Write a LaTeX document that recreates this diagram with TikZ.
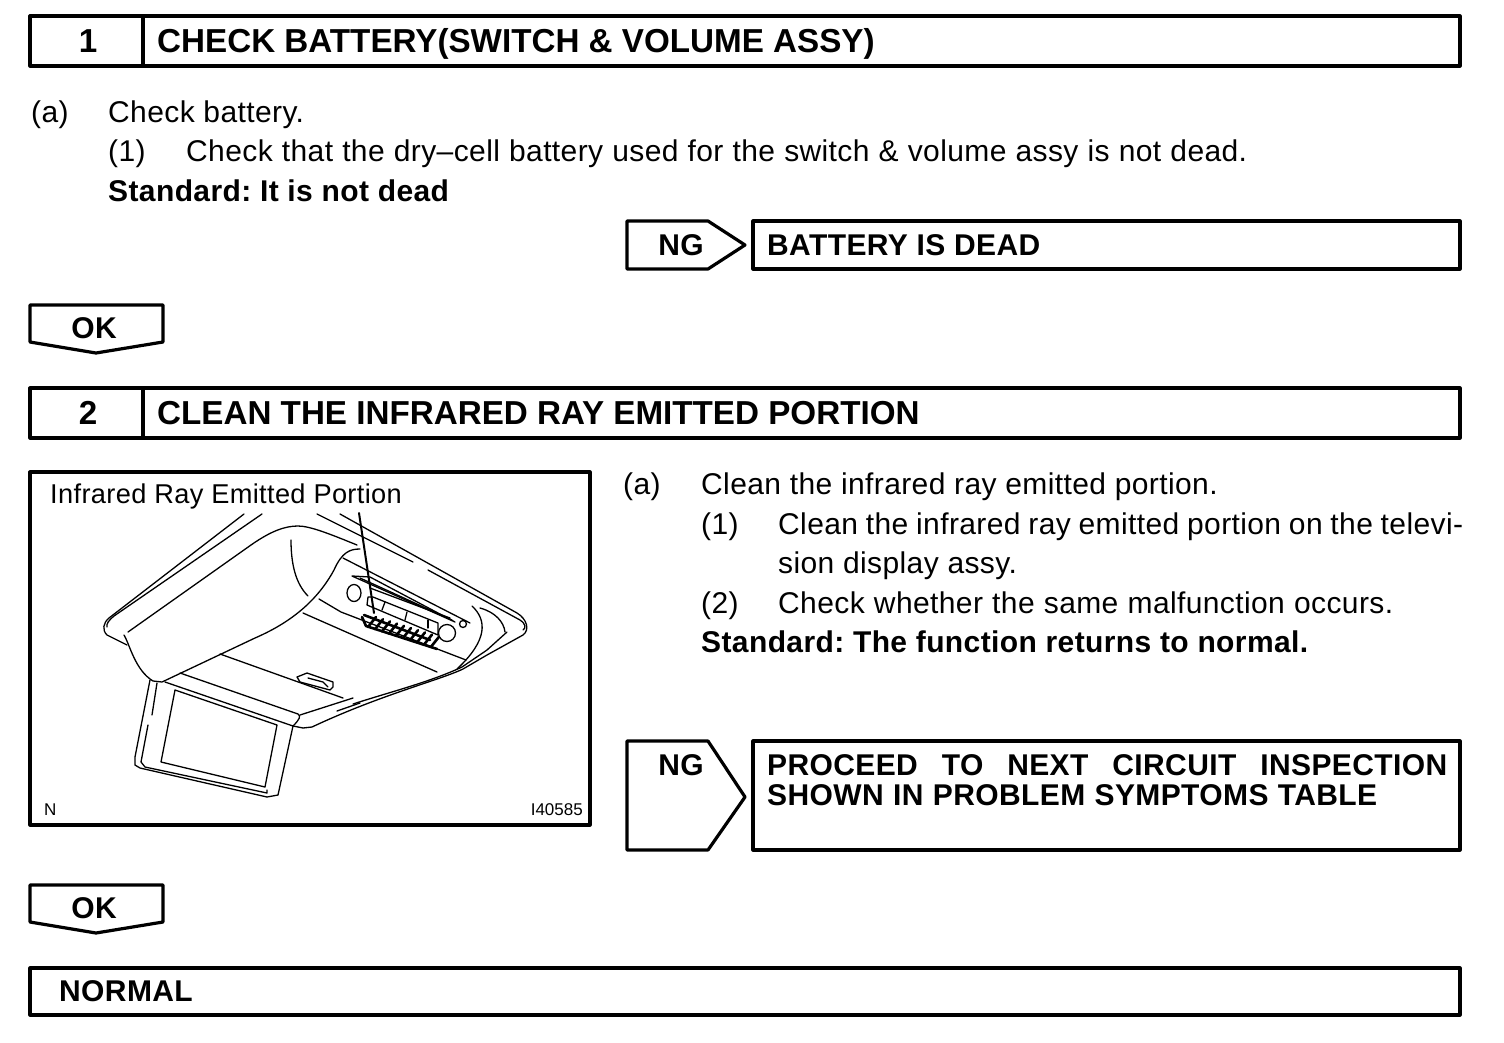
\documentclass[tikz,border=0pt]{standalone}
\usepackage{fontspec}
\setmainfont[LetterSpace=1.3]{Liberation Sans}
\usetikzlibrary{calc,positioning}
\tikzset{
  boxline/.style={line width=3.2pt,line join=round},
  sketch/.style={line width=1.3pt,line join=round,line cap=round},
  ventline/.style={sketch,line width=2.6pt},
  bodytxt/.style={anchor=base west,inner sep=0pt,font=\fontsize{30}{36}\selectfont\frenchspacing},
  boldtxt/.style={anchor=base west,inner sep=0pt,font=\fontsize{30}{36}\selectfont\bfseries\frenchspacing},
  headtxt/.style={anchor=base west,inner sep=0pt,font=\fontsize{33.2}{40}\selectfont\bfseries\addfontfeature{LetterSpace=0}},
  tagtxt/.style={anchor=base,inner sep=0pt,font=\fontsize{30}{36}\selectfont\bfseries},
  figtxt/.style={anchor=base west,inner sep=0pt,font=\fontsize{27.2}{32}\selectfont},
  tinytxt/.style={anchor=base west,inner sep=0pt,font=\fontsize{17}{22}\selectfont\addfontfeature{LetterSpace=0}}
}
\begin{document}
\begin{tikzpicture}[x=1pt,y=-1pt]
\useasboundingbox (0,0) rectangle (1504,1042);
\draw[boxline] (30,16) rectangle (1460,66);
\draw[boxline] (143,16)--(143,66);
\node[headtxt,anchor=base] (num1) at (88,52) {1};
\node[headtxt] (head1) at (157,52) {CHECK BATTERY(SWITCH \& VOLUME ASSY)};
\node[bodytxt] (a1) at (31,122) {(a)};
\node[bodytxt] (a1txt) at (108,122) {Check battery.};
\node[bodytxt] (b1) at (108,161) {(1)};
\node[bodytxt] (b1txt) at (186,161) {\makebox[1061pt][s]{Check that the dry–cell battery used for the switch \& volume assy is not dead.}};
\node[boldtxt] (std1) at (108,201) {Standard: It is not dead};
\draw[boxline] (627,221)--(708,221)--(745,245)--(708,269)--(627,269)--cycle;
\node[tagtxt] (ng1) at (681,255) {NG};
\draw[boxline] (753,221) rectangle (1460,269);
\node[boldtxt] (res1) at (767,255) {BATTERY IS DEAD};
\draw[boxline] (30,305)--(163,305)--(163,342)--(96,353)--(30,342)--cycle;
\node[tagtxt] (ok1) at (94,338) {OK};
\draw[boxline] (30,388) rectangle (1460,438);
\draw[boxline] (143,388)--(143,438);
\node[headtxt,anchor=base] (num2) at (88,424) {2};
\node[headtxt] (head2) at (157,424) {CLEAN THE INFRARED RAY EMITTED PORTION};
\draw[boxline] (30,472) rectangle (590,825);
\node[figtxt] (fig) at (50,503) {Infrared Ray Emitted Portion};
\node[tinytxt] (figN) at (44,815) {N};
\node[tinytxt,anchor=base east] (figid) at (583,815) {I40585};
\draw[sketch] (244,514)--(109,618) .. controls (103,623) and (102,630) .. (107,635)--(127,645);
\draw[sketch] (262,514)--(114,616) .. controls (109,620) and (106,624) .. (107,627);
\draw[sketch] (128,632)--(251,545) .. controls (271,531) and (285,526) .. (298,526) .. controls (310,526) and (330,534) .. (357,545);
\draw[sketch] (124,635) .. controls (130,645) and (135,670) .. (153,681)--(162,682)--(255,638) .. controls (285,625) and (315,605) .. (334,570) .. controls (342,552) and (350,549) .. (360,549);
\draw[sketch] (291,540) .. controls (291,565) and (296,584) .. (308,596);
\draw[sketch] (317,514)--(413,562);
\draw[sketch] (340,514)--(517,613) .. controls (527,619) and (530,630) .. (523,635)--(487,655)--(463,669) .. controls (440,680) and (380,695) .. (312,727)--(303,728)--(293,726);
\draw[sketch] (428,570)--(520,620) .. controls (526,624) and (526,628) .. (523,630);
\draw[sketch] (343,558)--(470,623);
\draw[sketch] (472,606) .. controls (487,620) and (488,640) .. (457,669);
\draw[sketch] (480,608) .. controls (495,612) and (504,622) .. (505,632);
\draw[sketch] (507,632)--(487,650)--(462,667) .. controls (430,682) and (390,692) .. (353,704);
\draw[sketch] (319,599)--(341,612)--(466,660);
\draw[sketch] (303,613)--(437,672);
\draw[sketch] (300,715)--(353,698);
\draw[sketch] (337,711)--(360,703);
\draw[sketch] (220,654)--(343,698);
\draw[sketch] (180,673)--(298,714) .. controls (301,716) and (300,719) .. (293,726);
\draw[sketch] (165,682)--(293,726);
\draw[sketch] (175,690)--(277,725)--(265,787)--(161,762)--cycle;
\draw[sketch] (150,680)--(135,757)--(135,765)--(140,768)--(267,797)--(278,795)--(293,726);
\draw[sketch] (157,683)--(152,715);
\draw[sketch] (148,725)--(141,762)--(145,767)--(267,793)--(267,790);
\draw[sketch] (297,677)--(307,673)--(333,682)--(333,687)--(330,690)--(300,682)--cycle;
\draw[sketch] (308,678)--(323,682)--(328,687);
\draw[sketch] (352,576)--(370,577)--(455,622)--cycle;
\draw[sketch] (360,578)--(452,620);
\draw[sketch] (370,588)--(450,618);
\draw[sketch] (354,593) ellipse (7 and 8.5);
\draw[sketch] (447,633) circle (8.5);
\draw[sketch] (463,624) circle (3.5);
\draw[sketch] (368,597)--(367,605)--(438,635)--(438,623)--(373,597)--cycle;
\draw[sketch] (385,602)--(382,610);
\draw[sketch] (407,612)--(405,620);
\draw[sketch] (428,620)--(428,628);
\draw[ventline] (362,617)--(366,626)--(437,649);
\draw[ventline] (364,615)--(430,640);
\foreach \t in {0,1,...,9}
  \draw[ventline] ({368+7*\t},{627+2.2*\t})--++(8,-10);
\draw[sketch,line width=2pt] (359,513)--(374,613);
\node[bodytxt] (a2) at (623,494) {(a)};
\node[bodytxt] (a2txt) at (701,494) {Clean the infrared ray emitted portion.};
\node[bodytxt] (b2) at (701,534) {(1)};
\node[bodytxt] (b2txt) at (778,534) {\makebox[685pt][s]{Clean the infrared ray emitted portion on the televi-}};
\node[bodytxt] (b2cont) at (778,573) {sion display assy.};
\node[bodytxt] (c2) at (701,613) {(2)};
\node[bodytxt] (c2txt) at (778,613) {\makebox[615pt][s]{Check whether the same malfunction occurs.}};
\node[boldtxt] (std2) at (701,652) {Standard: The function returns to normal.};
\draw[boxline] (627,741)--(708,741)--(745,797)--(708,850)--(627,850)--cycle;
\node[tagtxt] (ng2) at (681,775) {NG};
\draw[boxline] (753,741) rectangle (1460,850);
\node[boldtxt] (res2) at (767,775) {\makebox[680pt][s]{PROCEED TO NEXT CIRCUIT INSPECTION}};
\node[boldtxt] (res2b) at (767,805) {\makebox[610pt][s]{SHOWN IN PROBLEM SYMPTOMS TABLE}};
\draw[boxline] (30,885)--(163,885)--(163,922)--(96,933)--(30,922)--cycle;
\node[tagtxt] (ok2) at (94,918) {OK};
\draw[boxline] (30,968) rectangle (1460,1015);
\node[boldtxt] (normal) at (59,1001) {NORMAL};
\end{tikzpicture}
\end{document}
